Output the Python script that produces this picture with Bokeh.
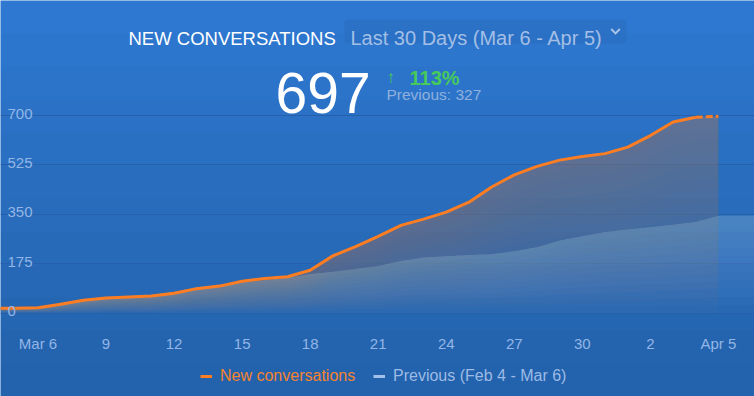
from bokeh.plotting import figure
from bokeh.models import (Range1d, FixedTicker, Grid, Label, Legend,
                          LegendItem, BoxAnnotation, PolyAnnotation)
from bokeh.core.properties import value
from bokeh.embed import file_html
from bokeh.resources import INLINE

# ---- data (day index: 0 = Mar 6, 30 = Apr 5) ----
days_current = [-2, -1, 0, 1, 2, 3, 4, 5, 6, 7, 8, 9, 10, 11, 12, 13, 14, 15, 16, 17,
                18, 19, 20, 21, 22, 23, 24, 25, 26, 27, 28, 29, 30]
new_conversations = [18, 18, 19, 32, 46, 54, 57, 61, 71, 87, 96, 113, 123, 129, 152, 203,
                     236, 272, 311, 333, 358, 393, 447, 490, 520, 542, 555, 565, 588, 629,
                     677, 694, 697]
days_previous = [-2, -1, 0, 1, 2, 3, 4, 5, 6, 7, 8, 9, 10, 11, 12, 13, 14, 15, 16, 17,
                 18, 19, 20, 21, 22, 23, 24, 25, 26, 27, 28, 29, 30, 32]
previous = [18, 18, 19, 30, 43, 53, 60, 66, 76, 94, 101, 110, 118, 126, 140, 148, 157,
            168, 186, 198, 203, 207, 210, 220, 234, 258, 273, 288, 297, 305, 314, 324,
            346, 346]
x_ticks = [0, 3, 6, 9, 12, 15, 18, 21, 24, 27, 30]
x_tick_labels = ["Mar 6", "9", "12", "15", "18", "21", "24", "27", "30", "2", "Apr 5"]
y_ticks = [0, 175, 350, 525, 700]
y_tick_labels = ["0", "175", "350", "525", "700"]

title_text = "NEW CONVERSATIONS"
period_text = "Last 30 Days (Mar 6 - Apr 5)"
total_text = "697"
change_arrow = "\u2191"
change_text = "113%"
previous_text = "Previous: 327"
series_names = ["New conversations", "Previous (Feb 4 - Mar 6)"]

BG = "#2f7ad6"
ORANGE = "#fd7d22"
LIGHT = "#93b6e6"
FONT = value("Liberation Sans")

W, H = 754, 396
X0, X1 = -1.653, 31.59
Y0, Y1 = -294.9, 1107.2
X_LABEL_Y = -107.3  # data-y where the date labels sit (below the zero line)

p = figure(width=W, height=H, output_backend="svg", toolbar_location=None,
           x_range=Range1d(X0, X1), y_range=Range1d(Y0, Y1),
           x_axis_location=None, y_axis_location=None, min_border=0)
p.background_fill_color = BG
p.border_fill_color = BG
p.outline_line_color = None
for g in p.grid:
    g.visible = False

# soft vertical darkening of the background (decorative)
n_bg = 12
for k in range(n_bg):
    p.add_layout(BoxAnnotation(left=0, right=W, bottom=0, top=H * (k + 1) / n_bg,
                               left_units="screen", right_units="screen", top_units="screen",
                               bottom_units="screen", fill_color="black", fill_alpha=0.014,
                               line_alpha=0, level="underlay"))

p.add_layout(Grid(dimension=1, ticker=FixedTicker(ticks=y_ticks), grid_line_color="#2660ad",
                  grid_line_width=1))

# areas with a soft vertical fade (stacked translucent bands)
n_cur = 16
for k in range(n_cur):
    f = k / n_cur
    p.varea(x=days_current, y1=[v * f for v in new_conversations], y2=new_conversations,
            fill_color="#f28d42", fill_alpha=0.021)
n_prev = 12
for k in range(n_prev):
    f = k / n_prev
    p.varea(x=days_previous, y1=[v * f for v in previous], y2=previous,
            fill_color="white", fill_alpha=0.016)

# lines
solid = p.line(days_current[:-1], new_conversations[:-1], line_color=ORANGE, line_width=3,
               line_join="round")
p.line(days_current[-2:], new_conversations[-2:], line_color=ORANGE, line_width=3,
       line_dash="7 3")
# single-point line: draws nothing in the plot, only provides the legend swatch
prev_legend_r = p.line(x=days_previous[:1], y=previous[:1], line_color="#a3c0e8", line_width=3)

# y tick labels inside plot
p.text(x=[X0] * len(y_ticks), y=y_ticks, text=y_tick_labels, text_font=FONT,
       text_font_size="15px", text_color=LIGHT, text_baseline="alphabetic",
       text_align="left", x_offset=7, y_offset=-2)
# date labels
p.text(x=x_ticks, y=[X_LABEL_Y] * len(x_ticks), text=x_tick_labels, text_font=FONT,
       text_font_size="15px", text_color=LIGHT, text_baseline="middle", text_align="center")

# legends
common = dict(orientation="horizontal", background_fill_alpha=0, border_line_alpha=0,
              label_text_font="Liberation Sans", label_text_font_size="16px",
              glyph_width=12, glyph_height=16, label_standoff=8, padding=0, margin=0)
leg1 = Legend(items=[LegendItem(label=series_names[0], renderers=[solid])],
              location=(200, 11), label_text_color="#f6822e", **common)
leg2 = Legend(items=[LegendItem(label=series_names[1], renderers=[prev_legend_r])],
              location=(373, 11), label_text_color="#9dbbe6", **common)
p.add_layout(leg1)
p.add_layout(leg2)


def sy(page_y):
    return H - page_y


p.add_layout(BoxAnnotation(left=344, right=626, top=sy(19), bottom=sy(43),
                           left_units="screen", right_units="screen", top_units="screen",
                           bottom_units="screen", fill_color="#1e4f8f", fill_alpha=0.15,
                           line_alpha=0, border_radius=4))
cx = [610, 615, 620, 618.6, 615, 611.4]
cy = [29.2, 34.2, 29.2, 27.8, 31.4, 27.8]
p.add_layout(PolyAnnotation(xs=cx, ys=[sy(v) for v in cy],
                            xs_units="screen", ys_units="screen", fill_color="#a9c3e6",
                            fill_alpha=1, line_alpha=0))

p.add_layout(Label(x=128, y=sy(37.7), x_units="screen", y_units="screen", text=title_text,
                   text_font="Liberation Sans", text_font_size="18.5px", text_color="white",
                   text_baseline="alphabetic"))
p.add_layout(Label(x=350, y=sy(37.7), x_units="screen", y_units="screen", text=period_text,
                   text_font="Liberation Sans", text_font_size="20px", text_color="#a3bfe6",
                   text_baseline="alphabetic"))
p.add_layout(Label(x=275, y=sy(92.5), x_units="screen", y_units="screen", text=total_text,
                   text_font="Liberation Sans", text_font_size="57px", text_color="white",
                   text_baseline="alphabetic"))
p.add_layout(Label(x=386, y=sy(77), x_units="screen", y_units="screen", text=change_arrow,
                   text_font="Liberation Sans", text_font_size="17px", text_color="#47c95b",
                   text_baseline="alphabetic"))
p.add_layout(Label(x=409, y=sy(77), x_units="screen", y_units="screen", text=change_text,
                   text_font="Liberation Sans", text_font_size="20px", text_color="#47c95b",
                   text_font_style="bold", text_baseline="alphabetic"))
p.add_layout(Label(x=386, y=sy(93.5), x_units="screen", y_units="screen", text=previous_text,
                   text_font="Liberation Sans", text_font_size="15.5px", text_color="#8fb0dc",
                   text_baseline="alphabetic"))

open("out.html", "w").write(file_html(p, INLINE))
